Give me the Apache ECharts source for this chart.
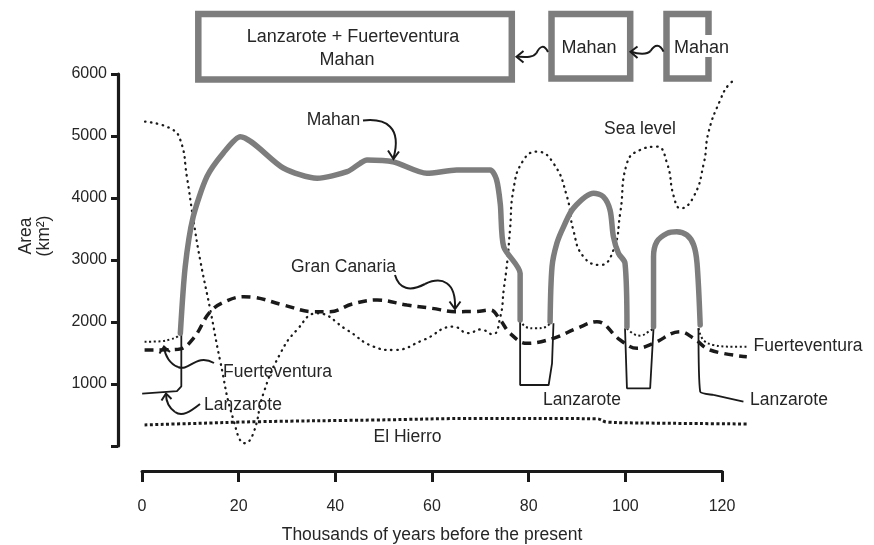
<!DOCTYPE html>
<html><head><meta charset="utf-8">
<script src="https://cdn.jsdelivr.net/npm/echarts/dist/echarts.min.js"></script>
<style>html,body{margin:0;padding:0;background:#fff}#c{width:874px;height:545px}</style>
</head><body><div id="c"></div>
<script>
// ---- data (x = thousands of years before present, y = area km2) ----
const xTicks = [0, 20, 40, 60, 80, 100, 120];
const yTicks = [1000, 2000, 3000, 4000, 5000, 6000];

const mahanA = [[7.9,1818],[8.9,2887],[10.55,3694],[13.4,4344],[16.8,4726],[20.3,4989],[29.2,4484],[36.2,4318],[42.4,4424],[45.1,4560],[46.5,4613],[51.9,4585],[58.9,4398],[65.1,4452],[72.0,4452],[73.3,4300],[74.1,3900],[74.8,3215],[78.2,2785],[78.2,2032]];
const mahanB = [[84.4,2005],[84.8,2892],[85.8,3269],[87.2,3537],[89.2,3834],[93.4,4076],[95.4,4021],[96.8,3806],[97.5,3376],[98.55,3108],[99.9,2947],[100.3,1924]];
const mahanC = [[105.8,1924],[105.8,3054],[106.5,3296],[108.6,3430],[110.6,3457],[112.7,3403],[114.1,3242],[114.8,2947],[115.45,1952]];

const lanzarote1 = [[0,845],[7.2,885],[8.1,960],[8.1,1818]];
const lanzarote2 = [[78.2,2032],[78.2,984],[84.1,984],[84.8,1334],[85.1,1979]];
const lanzarote3 = [[99.9,1898],[100.3,931],[105.1,931],[105.8,1898]];
const lanzarote4 = [[115.1,1898],[115.45,876],[118.2,823],[124.4,715]];

const fuerteventura1 = [[0.5,1682],[4,1690],[5.8,1720],[7.2,1760],[7.9,1818]];
const fuerteventura2 = [[78.2,2032],[79.3,1924],[81.3,1898],[83.7,1924],[84.4,1990]];
const fuerteventura3 = [[100.3,1898],[101.7,1806],[103.1,1780],[104.8,1844],[105.8,1898]];
const fuerteventura4 = [[115.1,1898],[116.1,1710],[118.2,1629],[122.3,1602],[125.4,1602]];

const granCanaria = [[0.5,1548],[7.5,1560],[10.6,1737],[14.1,2167],[17.5,2340],[21,2408],[23,2400],[29.2,2274],[35.5,2167],[38.9,2167],[43.5,2290],[48.6,2355],[54.8,2274],[60,2220],[64.8,2167],[69,2170],[72,2194],[74.1,2032],[76.1,1818],[79.6,1656],[85.1,1737],[90,1900],[94.1,2005],[98.9,1710],[102.4,1576],[105.8,1656],[111.3,1844],[114.1,1737],[117.5,1548],[125.1,1440]];

const elHierro = [[0.5,340],[10,362],[24,392],[48,419],[70,445],[94,440],[96.2,385],[105,370],[115,362],[125.1,355]];

const seaLevel = [[0.6,5231],[5.8,5124],[7.9,4935],[9.25,4344],[10.6,3645],[12,3000],[14.1,2194],[16.1,1387],[18.9,419],[21.3,44],[23,205],[25.1,850],[28.6,1495],[32,1871],[36.2,2140],[42.4,1871],[47.9,1602],[52,1548],[58.2,1710],[64.4,1925],[67.5,1820],[70,1880],[72.5,1800],[74.1,2086],[74.8,2516],[75.5,2947],[76.1,3484],[76.8,4129],[78.9,4613],[81.7,4747],[85.1,4560],[87.9,4021],[89.2,3484],[91.3,3054],[94.8,2919],[97.5,3161],[98.9,3753],[100.3,4560],[103,4774],[106.5,4828],[108.6,4560],[110,4021],[111.4,3833],[114.1,4021],[116.2,4560],[117.2,5069],[119.6,5580],[121.3,5823],[122.7,5903]];

// ---- styles ----
const FONT = '"Liberation Sans", Arial, Helvetica, sans-serif';
const GREY = '#7d7d7d';
const INK = '#1a1a1a';
const TXT = '#262626';

function seg(name, data, lineStyle, smooth, z) {
  return { type: 'line', name, data, xAxisIndex: 0, yAxisIndex: 0, symbol: 'none', showSymbol: false,
    smooth: smooth, lineStyle, z, silent: true, animation: false };
}
const mahanStyle = { color: GREY, width: 5.5, cap: 'round', join: 'round' };
const lanzStyle = { color: INK, width: 1.8 };
const fuerStyle = { color: INK, width: 2, type: [2, 2.6] };
const granStyle = { color: INK, width: 3.5, type: [9, 6] };
const hierroStyle = { color: INK, width: 3, type: [3, 2.4] };
const seaStyle = { color: INK, width: 2.3, type: [0.5, 5.5], cap: 'round' };

function txt(str, x, y, size, rot) {
  return { type: 'text', x, y, rotation: rot || 0, z: 100,
    style: { text: str, font: size + 'px ' + FONT, fill: TXT, align: 'center', verticalAlign: 'middle',
      textAlign: 'center', textVerticalAlign: 'middle' } };
}
function bez(p1, c1, c2, p2) {
  return { type: 'bezierCurve', z: 100, shape: { x1: p1[0], y1: p1[1], cpx1: c1[0], cpy1: c1[1], cpx2: c2[0], cpy2: c2[1], x2: p2[0], y2: p2[1] },
    style: { stroke: INK, lineWidth: 2, fill: null } };
}
function poly(points, color, width) {
  return { type: 'polyline', z: 100, shape: { points }, style: { stroke: color, lineWidth: width, fill: null, lineJoin: 'miter' } };
}
function rect(x, y, w, h) {
  return { type: 'rect', z: 100, shape: { x, y, width: w, height: h }, style: { stroke: GREY, lineWidth: 6.5, fill: null } };
}

const chart = echarts.init(document.getElementById('c'), null, { renderer: 'canvas' });
chart.setOption({
  animation: false,
  backgroundColor: '#fff',
  grid: [
    { left: 118, top: 74, width: 652.5, height: 372 },
    { left: 142, top: 460, width: 580, height: 11 }
  ],
  xAxis: [
    { gridIndex: 0, type: 'value', min: -5, max: 130, show: false },
    { gridIndex: 1, type: 'value', min: 0, max: 120, interval: 20, position: 'bottom',
      axisLine: { show: true, onZero: false, lineStyle: { color: INK, width: 3 } },
      axisTick: { show: true, inside: false, length: 11, lineStyle: { color: INK, width: 3 } },
      axisLabel: { margin: 28, fontSize: 16, color: TXT, fontFamily: FONT,
        customValues: xTicks },
      splitLine: { show: false },
      name: 'Thousands of years before the present', nameLocation: 'middle', nameGap: 55,
      nameTextStyle: { fontSize: 17.5, color: TXT, fontFamily: FONT } }
  ],
  yAxis: [
    { gridIndex: 0, type: 'value', min: 0, max: 6000, interval: 1000,
      axisLine: { show: true, onZero: false, lineStyle: { color: INK, width: 3.2 } },
      axisTick: { show: true, inside: false, length: 7, lineStyle: { color: INK, width: 3 } },
      axisLabel: { margin: 11, fontSize: 16, color: TXT, fontFamily: FONT,
        formatter: v => (yTicks.indexOf(v) >= 0 ? String(v) : '') },
      splitLine: { show: false } },
    { gridIndex: 1, type: 'value', show: false }
  ],
  series: [
    seg('Sea level', seaLevel, seaStyle, 0.5, 2),
    seg('El Hierro', elHierro, hierroStyle, 0.4, 3),
    seg('Gran Canaria', granCanaria, granStyle, 0.4, 4),
    seg('Fuerteventura1', fuerteventura1, fuerStyle, 0.4, 5),
    seg('Fuerteventura2', fuerteventura2, fuerStyle, 0.4, 5),
    seg('Fuerteventura3', fuerteventura3, fuerStyle, 0.4, 5),
    seg('Fuerteventura4', fuerteventura4, fuerStyle, 0.4, 5),
    seg('Lanzarote1', lanzarote1, lanzStyle, false, 6),
    seg('Lanzarote2', lanzarote2, lanzStyle, false, 6),
    seg('Lanzarote3', lanzarote3, lanzStyle, false, 6),
    seg('Lanzarote4', lanzarote4, lanzStyle, 0.2, 6),
    seg('MahanA', mahanA, mahanStyle, 0.25, 7),
    seg('MahanB', mahanB, mahanStyle, 0.3, 7),
    seg('MahanC', mahanC, mahanStyle, 0.3, 7)
  ],
  graphic: [
    // y axis title
    txt('Area', 26, 236, 17.5, Math.PI / 2),
    txt('(km²)', 44, 236, 17.5, Math.PI / 2),
    // top boxes
    rect(198.3, 14, 313.5, 65.5),
    rect(551.5, 14, 78.7, 64.5),
    poly([[708.5, 35], [708.5, 14], [666.5, 14], [666.5, 78.5], [708.5, 78.5], [708.5, 57]], GREY, 6.5),
    txt('Lanzarote + Fuerteventura', 353, 37, 18),
    txt('Mahan', 347, 60, 18),
    txt('Mahan', 589, 48, 18),
    txt('Mahan', 701.5, 48, 18),
    // arrows between boxes
    bez([548, 52], [544, 44], [540, 46], [536.5, 53]),
    bez([536.5, 53], [533, 58], [525, 57], [517, 56.7]),
    poly([[523.5, 51], [516.5, 56.7], [523.5, 62.5]], INK, 2),
    bez([663.5, 51.7], [660, 44], [655, 44], [650.5, 51]),
    bez([650.5, 51], [647, 55], [638, 54], [631, 51.7]),
    poly([[637.5, 46.5], [630.5, 51.7], [637.5, 58]], INK, 2),
    // in-plot labels
    txt('Mahan', 333.5, 120, 17.5),
    bez([363, 120.5], [386, 118], [402, 127], [393.5, 158]),
    poly([[388, 150.5], [393.5, 159], [399, 151.5]], INK, 2),
    txt('Sea level', 640, 129, 17.5),
    txt('Gran Canaria', 343.5, 267, 17.5),
    bez([395, 275], [399, 289], [410, 292], [425, 284]),
    bez([425, 284], [442, 276], [456, 282], [455, 308]),
    poly([[449.5, 301.5], [455, 309], [460.5, 301.5]], INK, 2),
    txt('Fuerteventura', 277.5, 372, 17.5),
    bez([214, 363], [196, 353], [189, 372], [178, 367]),
    bez([178, 367], [170, 364], [165, 356], [164, 347]),
    poly([[159.5, 353.5], [164, 346.5], [170, 352]], INK, 2),
    txt('Lanzarote', 243, 405, 17.5),
    bez([200, 404], [190, 412], [182, 417], [175, 412]),
    bez([175, 412], [168, 407], [166, 400], [166, 394]),
    poly([[161.5, 400.5], [166, 393.5], [171.5, 399]], INK, 2),
    txt('El Hierro', 407.5, 437, 17.5),
    txt('Lanzarote', 582, 400, 17.5),
    txt('Lanzarote', 789, 400, 17.5),
    txt('Fuerteventura', 808, 346, 17.5)
  ]
});
</script></body></html>
